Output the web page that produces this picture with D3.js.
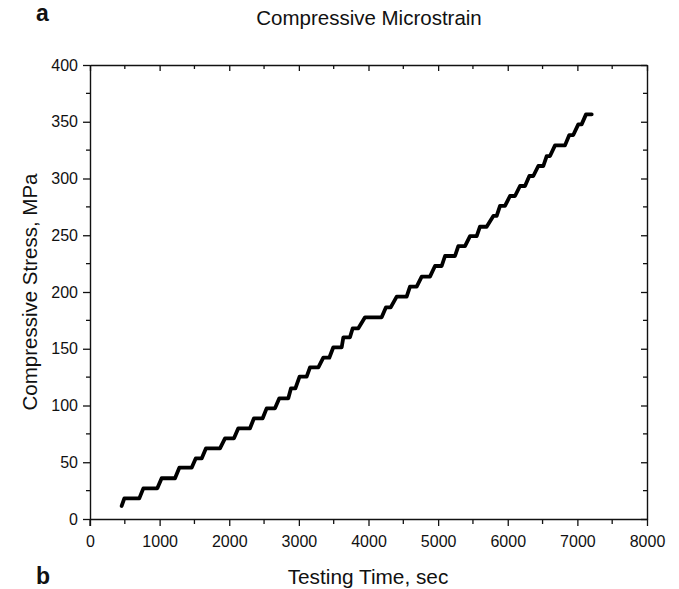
<!DOCTYPE html>
<html><head><meta charset="utf-8">
<script src="https://cdn.jsdelivr.net/npm/d3@7"></script>
<style>
html,body{margin:0;padding:0;background:#fff;}
svg text{font-family:"Liberation Sans",Arial,sans-serif;fill:#111;}
</style></head>
<body><svg id="c" width="679" height="589"></svg>
<script>
// Data (plateau vertices of the loading staircase)
const timeSec = [455, 493, 708, 766, 967, 1029, 1221, 1283, 1460, 1518, 1604, 1666, 1867, 1939, 2068, 2130, 2298, 2355, 2480, 2537, 2657, 2719, 2848, 2887, 2950, 3010, 3112, 3160, 3280, 3351, 3437, 3495, 3615, 3639, 3734, 3773, 3854, 3950, 4189, 4251, 4319, 4405, 4548, 4596, 4692, 4764, 4883, 4955, 5051, 5099, 5242, 5290, 5386, 5458, 5554, 5601, 5697, 5793, 5841, 5889, 5960, 6032, 6104, 6176, 6248, 6310, 6367, 6439, 6511, 6559, 6607, 6679, 6822, 6884, 6941, 7013, 7061, 7124, 7206];
const stressMPa = [11.5, 18.2, 18.2, 27, 27, 35.9, 35.9, 45.2, 45.2, 53.4, 53.4, 62.3, 62.3, 71.1, 71.1, 79.9, 79.9, 88.7, 88.7, 97.5, 97.5, 106.3, 106.3, 115.1, 115.1, 125.4, 125.4, 133.6, 133.6, 142.1, 142.1, 151.3, 151.3, 160.1, 160.1, 168, 168, 177.7, 177.7, 186.5, 186.5, 195.9, 195.9, 204.7, 204.7, 213.5, 213.5, 222.9, 222.9, 231.7, 231.7, 240.5, 240.5, 249.3, 249.3, 257.5, 257.5, 267, 267, 275.8, 275.8, 284.6, 284.6, 293.4, 293.4, 302.2, 302.2, 311, 311, 319.8, 319.8, 329.2, 329.2, 338.3, 338.3, 347.7, 347.7, 356.5, 356.5];
const xTicks = [0, 1000, 2000, 3000, 4000, 5000, 6000, 7000, 8000];
const yTicks = [0, 50, 100, 150, 200, 250, 300, 350, 400];
const xMinor = d3.range(500, 8000, 1000);
const yMinor = d3.range(25, 400, 50);

const L = 90, R = 647, T = 65, B = 519;
const svg = d3.select("#c");
const x = d3.scaleLinear().domain([0, 8000]).range([L, R]);
const y = d3.scaleLinear().domain([0, 400]).range([B, T]);

function styleAxis(g){
  g.select(".domain").attr("stroke","#111").attr("stroke-width",1.4);
  g.selectAll(".tick line").attr("stroke","#111").attr("stroke-width",1.3);
  g.selectAll("text").attr("font-size","16px").attr("fill","#111")
    .attr("font-family","'Liberation Sans',Arial,sans-serif");
}
// bottom
const gb = svg.append("g").attr("transform",`translate(0,${B})`)
  .call(d3.axisBottom(x).tickValues(xTicks).tickSize(7).tickPadding(10).tickSizeOuter(0).tickFormat(d3.format("d")));
styleAxis(gb);
gb.append("g").selectAll("line").data(xMinor).join("line")
  .attr("x1",d=>x(d)).attr("x2",d=>x(d)).attr("y1",0).attr("y2",5).attr("stroke","#111").attr("stroke-width",1.3);
// top
const gt = svg.append("g").attr("transform",`translate(0,${T})`)
  .call(d3.axisBottom(x).tickValues(xTicks).tickSize(6).tickSizeOuter(0).tickFormat(""));
styleAxis(gt);
gt.append("g").selectAll("line").data(xMinor).join("line")
  .attr("x1",d=>x(d)).attr("x2",d=>x(d)).attr("y1",0).attr("y2",4).attr("stroke","#111").attr("stroke-width",1.3);
// left
const gl = svg.append("g").attr("transform",`translate(${L},0)`)
  .call(d3.axisLeft(y).tickValues(yTicks).tickSize(7).tickPadding(5).tickSizeOuter(0).tickFormat(d3.format("d")));
styleAxis(gl);
gl.append("g").selectAll("line").data(yMinor).join("line")
  .attr("y1",d=>y(d)).attr("y2",d=>y(d)).attr("x1",0).attr("x2",-4).attr("stroke","#111").attr("stroke-width",1.3);
// right
const gr = svg.append("g").attr("transform",`translate(${R},0)`)
  .call(d3.axisLeft(y).tickValues(yTicks).tickSize(6).tickSizeOuter(0).tickFormat(""));
styleAxis(gr);
gr.append("g").selectAll("line").data(yMinor).join("line")
  .attr("y1",d=>y(d)).attr("y2",d=>y(d)).attr("x1",0).attr("x2",-4).attr("stroke","#111").attr("stroke-width",1.3);
// 0 tick crossing below x axis on y-axis
svg.append("line").attr("x1",L).attr("x2",L).attr("y1",B).attr("y2",B+7).attr("stroke","#111").attr("stroke-width",1.3);

// data line
const pts = timeSec.map((t,i)=>[t, stressMPa[i]]);
svg.append("path").datum(pts)
  .attr("d", d3.line().x(d=>x(d[0])).y(d=>y(d[1])))
  .attr("fill","none").attr("stroke","#000").attr("stroke-width",3.8)
  .attr("stroke-linejoin","round").attr("stroke-linecap","round");

// texts
svg.append("text").attr("x",369).attr("y",25).attr("text-anchor","middle")
  .attr("font-size","20.5px").text("Compressive Microstrain");
svg.append("text").attr("x",368).attr("y",584).attr("text-anchor","middle")
  .attr("font-size","20.8px").text("Testing Time, sec");
svg.append("text").attr("transform","translate(37,292) rotate(-90)").attr("text-anchor","middle")
  .attr("font-size","20.5px").text("Compressive Stress, MPa");
svg.append("text").attr("x",36).attr("y",21).attr("font-size","23px").attr("font-weight","bold")
  .attr("font-family","'Liberation Serif','Times New Roman',serif").text("a");
svg.append("text").attr("x",36).attr("y",584).attr("font-size","23px").attr("font-weight","bold")
  .attr("font-family","'Liberation Serif','Times New Roman',serif").text("b");
</script></body></html>
